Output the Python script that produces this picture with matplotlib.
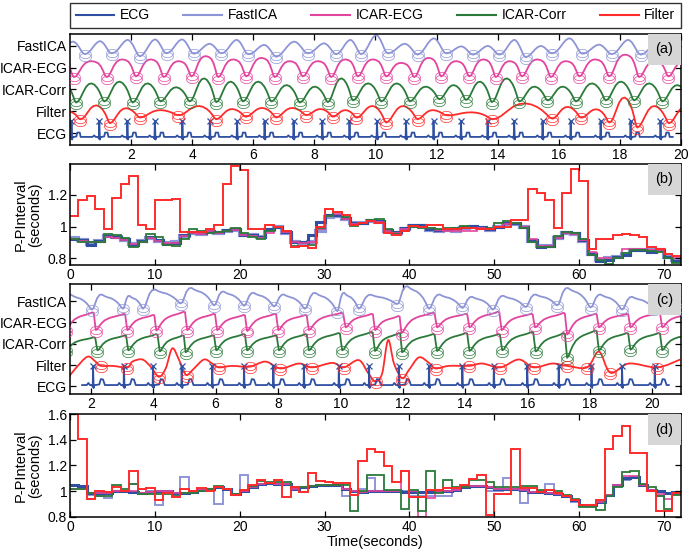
import numpy as np
import matplotlib
matplotlib.use("Agg")
import matplotlib.pyplot as plt
from matplotlib.path import Path
from matplotlib.patches import PathPatch, Rectangle
from matplotlib.lines import Line2D

plt.rcParams['font.family'] = ['Liberation Sans', 'DejaVu Sans']
plt.rcParams['font.size'] = 10

names = ["ECG", "FastICA", "ICAR-ECG", "ICAR-Corr", "Filter"]
colors = {"ECG": "#2f4fa2", "FastICA": "#8e95d6", "ICAR-ECG": "#e2449e",
          "ICAR-Corr": "#2b7a3a", "Filter": "#ff2b2b"}
trace_ticks = ["ECG", "Filter", "ICAR-Corr", "ICAR-ECG", "FastICA"]

# ---------------- panel (a): waveforms, 0-20 s ----------------
a_ecg_beats = [0.05, 0.96, 1.88, 2.78, 3.68, 4.58, 5.47, 6.37, 7.32, 8.26, 9.15,
               10.05, 11.0, 11.9, 12.8, 13.67, 14.54, 15.47, 16.39, 17.37, 18.35, 19.33]
a_ecg_base = -0.18
a_ecg_rel_t = [-0.3, -0.22, -0.17, -0.12, -0.04, -0.015, 0.0, 0.02, 0.04, 0.07, 0.16, 0.19, 0.27, 0.3, 0.4]
a_ecg_rel_v = [0, 0, 0.07, 0, 0, -0.08, 0.73, -0.12, 0.0, 0.0, 0.02, 0.2, 0.2, 0.0, 0]

a_fast_mins = [-0.42, 0.49, 1.36, 2.29, 3.16, 4.05, 4.96, 5.83, 6.75, 7.79, 8.71, 9.53, 10.4,
               11.38, 12.31, 13.18, 14.05, 14.92, 15.79, 16.77, 17.73, 18.68, 19.6]
a_fast_minv = [3.66, 3.62, 3.66, 3.52, 3.66, 3.64, 3.66, 3.62, 3.5, 3.66, 3.62, 3.62, 3.66,
               3.6, 3.66, 3.6, 3.6, 3.48, 3.66, 3.64, 3.62, 3.6, 3.62]
a_fast_peak = [4.2, 4.22, 4.28, 4.3, 4.3, 4.1, 4.28, 4.05, 4.2, 4.12, 4.28, 4.5, 4.1, 4.35,
               3.98, 4.0, 4.28, 4.0, 4.35, 4.06, 4.28, 4.1]

a_pink_mins = [-0.8, 0.13, 1.2, 2.16, 3.07, 3.98, 4.85, 5.77, 6.7, 7.62, 8.55, 9.42, 10.35,
               11.27, 12.15, 13.07, 13.94, 14.79, 15.74, 16.67, 17.65, 18.63, 19.59, 20.5]
a_pink_minv = [2.6, 2.57, 2.57, 2.6, 2.57, 2.6, 2.57, 2.6, 2.57, 2.6, 2.57, 2.6, 2.6,
               2.57, 2.6, 2.6, 2.57, 2.6, 2.57, 2.6, 2.6, 2.57, 2.6, 2.6]
a_pink_peak = [3.3, 3.3, 3.38, 3.38, 3.3, 3.53, 3.38, 3.45, 3.3, 3.3, 3.38, 3.38, 3.22,
               3.45, 3.3, 3.38, 3.3, 3.38, 3.3, 3.38, 3.6, 3.3, 3.25]

a_green_mins = [-0.7, 0.2, 1.12, 2.05, 2.96, 3.92, 4.79, 5.66, 6.59, 7.52, 8.44, 9.26, 10.19,
                11.13, 12.09, 12.96, 13.81, 14.71, 15.63, 16.56, 17.54, 18.46, 19.39, 20.3]
a_green_minv = [1.45, 1.4, 1.45, 1.4, 1.45, 1.45, 1.42, 1.45, 1.45, 1.4, 1.42, 1.5, 1.45,
                1.45, 1.55, 1.52, 1.42, 1.45, 1.5, 1.45, 1.5, 1.5, 1.45, 1.5]
a_green_peak = [2.3, 2.28, 2.36, 2.28, 2.1, 2.51, 2.36, 2.36, 2.2, 2.13, 2.51, 2.28, 2.28,
                2.13, 2.2, 2.36, 2.51, 2.13, 2.13, 2.28, 2.36, 2.28, 2.2]

a_red_mins = [-0.55, 0.33, 1.31, 2.29, 3.54, 4.79, 5.75, 6.75, 7.73, 8.6, 9.37, 10.35, 11.38,
              12.31, 13.83, 15.79, 16.72, 17.65, 18.57, 19.61, 20.6]
a_red_minv = [0.8, 0.63, 0.45, 0.71, 0.82, 0.63, 0.75, 0.71, 0.82, 0.75, 0.71, 0.48, 0.63,
              0.82, 0.63, 0.66, 0.71, 0.48, 0.25, 0.45, 0.6]
a_red_peak = [1.0, 1.27, 1.14, 1.05, 1.24, 1.1, 1.15, 1.15, 1.1, 1.05, 1.24, 1.24, 1.05,
              0.95, 1.36, 1.2, 1.09, 1.63, 1.24, 1.2]

# ---------------- panel (c): waveforms ----------------
c_ecg_beats = [2.07, 3.06, 3.99, 4.91, 5.89, 6.91, 7.85, 8.83, 9.95, 10.92, 11.88, 12.84,
               13.91, 14.92, 15.99, 17.0, 18.05, 19.03, 20.08]
c_ecg_base = 0.06
c_ecg_rel_t = [-0.35, -0.2, -0.15, -0.1, -0.03, -0.01, 0.0, 0.02, 0.04, 0.08, 0.2, 0.25, 0.32, 0.38, 0.45]
c_ecg_rel_v = [0, 0, 0.1, 0, 0, -0.08, 0.88, -0.14, 0.0, 0.0, 0.03, 0.28, 0.26, 0.0, 0]

c_fast_mins = [1.05, 2.03, 3.03, 3.67, 4.88, 5.95, 6.91, 7.87, 8.86, 9.9, 10.59, 11.82, 12.84,
               13.91, 14.89, 15.94, 16.95, 18.02, 19.03, 20.05, 21.0]
c_fast_minv = [3.6, 3.6, 3.64, 3.64, 3.89, 3.8, 3.78, 3.75, 3.64, 3.53, 3.64, 3.86, 3.64,
               3.68, 3.6, 3.72, 3.8, 3.7, 3.6, 3.65, 3.65]
c_fast_peak = [4.3, 4.31, 4.25, 4.55, 4.62, 4.45, 4.39, 4.31, 4.39, 4.39, 4.3, 4.7, 4.31,
               4.2, 4.25, 4.31, 4.62, 4.31, 4.2, 4.39]

c_pink_mins = [1.2, 2.16, 3.17, 4.1, 5.09, 6.05, 7.01, 8.01, 8.99, 10.17, 11.11, 11.96, 13.1,
               14.14, 15.17, 16.24, 17.27, 18.29, 19.3, 20.32, 21.3]
c_pink_minv = [2.62, 2.64, 2.64, 2.62, 2.64, 2.64, 2.6, 2.64, 2.64, 2.77, 2.64, 2.5, 2.77,
               2.77, 2.64, 2.77, 2.43, 2.77, 2.77, 2.77, 2.7]
c_pink_peak = [3.47, 3.4, 3.35, 3.5, 3.4, 3.35, 3.4, 3.35, 3.45, 3.4, 3.3, 3.45, 3.4, 3.5,
               3.4, 3.45, 3.4, 3.4, 3.45, 3.4]

c_green_mins = [1.2, 2.21, 3.2, 4.21, 5.04, 6.02, 7.01, 8.03, 8.99, 10.06, 11.11, 11.98, 13.1,
                14.14, 15.19, 16.26, 17.27, 18.29, 19.3, 20.32, 21.3]
c_green_minv = [1.69, 1.69, 1.69, 1.64, 1.6, 1.69, 1.69, 1.69, 1.69, 1.69, 1.66, 1.6, 1.66,
                1.66, 1.69, 1.64, 1.34, 1.69, 1.72, 1.7, 1.7]
c_green_peak = [2.3, 2.39, 2.45, 2.39, 2.39, 2.45, 2.39, 2.45, 2.5, 2.55, 2.5, 2.45, 2.5,
                2.45, 2.55, 2.5, 2.62, 2.5, 2.5, 2.45]

c_red_t = [1.3, 1.51, 1.89, 2.15, 2.32, 2.69, 3.17, 3.33, 3.65, 3.92, 4.18, 4.4, 4.61, 4.83,
           4.99, 5.09, 5.31, 5.63, 5.89, 6.11, 6.53, 7.09, 7.6, 8.08, 8.67, 9.1, 9.74, 10.11,
           10.59, 10.9, 11.13, 11.34, 11.53, 11.72, 11.98, 12.2, 12.52, 12.84, 13.05, 13.48,
           14.12, 14.55, 15.13, 15.72, 16.2, 16.79, 17.27, 17.91, 18.29, 18.66, 19.25, 20.16, 20.9]
c_red_v = [0.45, 0.84, 1.39, 1.16, 0.96, 0.96, 0.89, 1.16, 1.26, 0.92, 0.45, 0.84, 1.78, 1.23,
           0.69, 0.53, 0.84, 1.26, 1.07, 0.89, 0.96, 0.92, 1.16, 0.84, 1.07, 0.89, 1.1, 0.89,
           1.23, 0.6, 0.22, 0.61, 2.17, 1.07, 0.38, 0.77, 1.36, 1.1, 0.84, 0.96, 0.96, 1.07,
           0.89, 1.26, 0.89, 1.07, 0.96, 0.89, 1.63, 0.64, 1.07, 0.89, 1.26]
c_red_circ_t = [2.32, 3.17, 4.18, 5.09, 6.11, 7.09, 8.08, 9.1, 10.11, 11.13, 11.98, 13.05,
                14.12, 15.13, 16.2, 17.27, 17.91, 18.66, 20.16]
c_red_circ_v = [0.96, 0.89, 0.45, 0.53, 0.89, 0.92, 0.84, 0.89, 0.89, 0.22, 0.38, 0.84, 0.96,
                0.89, 0.89, 0.96, 0.89, 0.64, 0.89]

# beat shapes (phase within one min-to-min cycle, normalised level)
a_shape_fast = ([0, .07, .15, .25, .35, .45, .55, .62, .7, .78, .86, .93, 1],
                [0, .04, .15, .38, .65, .88, 1, .97, .82, .58, .3, .08, 0])
a_shape_pink = ([0, .07, .15, .25, .35, .45, .55, .65, .75, .83, .9, .95, 1],
                [0, .06, .3, .65, .88, .98, 1, .96, .86, .65, .36, .1, 0])
a_shape_round = ([0, .07, .15, .25, .35, .45, .55, .65, .75, .83, .9, .95, 1],
                 [0, .05, .22, .52, .8, .96, 1, .93, .76, .55, .3, .09, 0])
c_shape_fast = ([0, .05, .1, .17, .25, .32, .42, .52, .62, .72, .82, .9, .96, 1],
                [0, .08, .35, .75, .97, 1, .88, .8, .74, .62, .45, .25, .07, 0])
c_shape_saw = ([0, .05, .1, .18, .28, .4, .52, .65, .78, .88, .93, .965, 1],
               [0, .06, .22, .42, .6, .72, .8, .86, .93, 1, .97, .45, 0])

# ---------------- panel (b): P-P intervals ----------------
b_ecg = [0.925, 0.914, 0.886, 0.907, 0.942, 0.936, 0.92, 0.886, 0.907, 0.936, 0.914, 0.892,
         0.899, 0.946, 0.964, 0.957, 0.972, 0.964, 0.979, 0.985, 0.95, 0.946, 0.936, 0.985,
         1.0, 0.964, 0.9, 0.9, 0.95, 1.03, 1.075, 1.075, 1.054, 1.021, 1.021, 1.04, 1.035,
         0.979, 0.964, 0.99, 1.01, 1.01, 0.985, 0.979, 0.985, 0.99, 1.0, 1.005, 0.995, 0.985,
         1.0, 1.02, 1.02, 1.0, 0.914, 0.871, 0.878, 0.936, 0.964, 0.957, 0.914, 0.828, 0.785,
         0.79, 0.807, 0.822, 0.85, 0.85, 0.843, 0.85, 0.807, 0.785]
b_fast = [0.93, 0.918, 0.892, 0.91, 0.938, 0.932, 0.918, 0.892, 0.91, 0.93, 0.912, 0.895,
          0.9, 0.94, 0.96, 0.955, 0.968, 0.962, 0.975, 0.98, 0.948, 0.944, 0.935, 0.98,
          0.995, 0.96, 0.905, 0.89, 0.9, 0.97, 1.06, 1.07, 1.05, 1.02, 1.02, 1.035, 1.03,
          0.975, 0.96, 0.985, 1.005, 1.005, 0.98, 0.975, 0.98, 0.975, 0.99, 1.0, 0.99, 0.98,
          0.995, 1.015, 1.015, 0.995, 0.91, 0.875, 0.88, 0.93, 0.96, 0.955, 0.91, 0.83, 0.79,
          0.8, 0.81, 0.83, 0.855, 0.855, 0.85, 0.85, 0.81, 0.79]
b_pink = [0.922, 0.91, 0.9, 0.905, 0.935, 0.93, 0.915, 0.89, 0.905, 0.93, 0.91, 0.895,
          0.895, 0.94, 0.96, 0.955, 0.97, 0.96, 0.975, 0.98, 0.945, 0.94, 0.93, 0.96,
          0.995, 0.965, 0.905, 0.895, 0.9, 0.985, 1.07, 1.08, 1.05, 1.015, 1.02, 1.035, 1.03,
          0.975, 0.96, 0.985, 1.005, 1.0, 0.99, 0.98, 0.97, 0.97, 0.97, 0.97, 0.99, 0.985,
          0.995, 1.015, 1.02, 1.0, 0.92, 0.88, 0.875, 0.93, 0.96, 0.955, 0.915, 0.84, 0.8,
          0.8, 0.8, 0.86, 0.86, 0.86, 0.855, 0.85, 0.83, 0.8]
b_green = [0.92, 0.905, 0.9, 0.905, 0.955, 0.945, 0.93, 0.87, 0.9, 0.955, 0.935, 0.885,
           0.875, 0.925, 0.985, 0.97, 0.96, 0.965, 0.975, 0.99, 0.96, 0.935, 0.925, 0.975,
           0.995, 0.975, 0.88, 0.88, 0.885, 0.99, 1.07, 1.09, 1.06, 1.005, 1.02, 1.04, 1.045,
           0.985, 0.955, 0.975, 1.0, 0.99, 0.99, 0.985, 0.99, 0.99, 1.005, 0.99, 0.985, 0.99,
           1.02, 1.035, 1.025, 0.99, 0.9, 0.87, 0.87, 0.94, 0.965, 0.96, 0.92, 0.82, 0.79,
           0.765, 0.8, 0.835, 0.855, 0.85, 0.845, 0.84, 0.8, 0.77]
b_red = [1.07, 1.166, 1.19, 1.11, 0.985, 1.18, 1.27, 1.32, 1.01, 0.985, 1.168, 1.168, 1.175,
         0.968, 0.968, 0.968, 0.985, 1.01, 1.27, 1.38, 1.36, 0.985, 0.985, 1.01, 0.995, 0.975,
         0.87, 0.875, 0.865, 0.995, 1.11, 1.09, 1.075, 1.01, 1.02, 1.035, 1.02, 0.96, 0.945,
         0.97, 1.005, 1.0, 1.01, 1.01, 0.985, 0.985, 0.99, 0.99, 0.985, 0.985, 1.0, 1.0, 1.04,
         1.04, 1.235, 1.215, 1.17, 0.99, 1.21, 1.365, 1.29, 0.86, 0.925, 0.925, 0.945, 0.955,
         0.95, 0.935, 0.87, 0.86, 0.83, 0.815]

# ---------------- panel (d): P-P intervals ----------------
d_ecg = [1.05, 1.04, 0.985, 0.985, 0.99, 1.0, 1.005, 0.995, 0.99, 0.995, 1.0, 1.0, 0.985,
         0.99, 0.995, 1.01, 1.015, 1.03, 1.02, 0.98, 1.005, 1.03, 1.06, 1.065, 1.06, 1.055,
         1.02, 1.03, 1.04, 1.05, 1.05, 1.045, 1.02, 1.0, 0.995, 1.0, 1.0, 1.0, 1.0, 0.995,
         0.995, 0.995, 0.995, 1.0, 1.005, 1.01, 1.03, 1.04, 1.04, 1.03, 1.02, 1.015, 1.015,
         1.01, 0.995, 0.995, 0.99, 0.98, 0.96, 0.93, 0.89, 0.89, 0.915, 0.97, 1.05, 1.1, 1.11,
         1.05, 1.01, 1.0, 0.99, 0.995]
d_fast = [1.05, 1.04, 0.97, 0.96, 0.945, 1.0, 1.0, 1.06, 0.99, 1.0, 0.89, 0.99, 0.99, 1.11,
          1.0, 1.01, 1.02, 0.9, 1.02, 0.98, 1.13, 1.03, 1.06, 1.06, 1.06, 1.05, 1.03, 1.03,
          1.04, 1.05, 1.05, 1.04, 0.96, 1.0, 1.02, 1.1, 1.0, 1.0, 1.0, 1.0, 0.96, 0.96, 0.96,
          0.96, 0.96, 1.0, 1.04, 1.04, 1.04, 1.0, 1.0, 1.1, 1.02, 0.91, 0.99, 1.0, 1.06, 0.98,
          0.96, 0.92, 0.89, 0.89, 0.92, 0.97, 1.05, 1.09, 1.1, 1.05, 1.0, 0.96, 0.99, 0.98]
d_pink = [1.02, 1.02, 0.985, 0.985, 0.99, 1.0, 1.005, 1.0, 0.99, 0.995, 1.0, 1.0, 0.985,
          0.99, 0.995, 1.01, 1.015, 1.03, 1.02, 0.98, 1.005, 1.03, 1.06, 1.065, 1.06, 1.055,
          1.02, 1.03, 1.04, 1.05, 1.05, 1.045, 1.02, 1.0, 0.995, 1.0, 1.0, 1.0, 1.0, 1.16, 1.0,
          0.8, 0.945, 1.0, 1.005, 1.01, 1.03, 1.04, 1.04, 1.03, 1.02, 1.015, 1.015, 1.01,
          0.995, 0.995, 0.99, 0.98, 0.96, 0.93, 0.89, 0.89, 0.915, 0.97, 1.05, 1.12, 1.12, 1.05,
          1.01, 0.98, 0.94, 0.99]
d_green = [1.02, 1.02, 0.985, 0.96, 0.96, 1.05, 1.02, 1.06, 0.98, 0.98, 0.98, 0.98, 0.96,
           0.99, 0.985, 1.0, 1.02, 1.04, 1.02, 0.98, 1.01, 1.04, 1.08, 1.07, 1.07, 1.07, 1.03,
           1.03, 1.04, 1.05, 1.05, 1.05, 1.05, 0.85, 1.0, 1.13, 1.13, 1.01, 1.01, 0.865, 1.01,
           0.85, 1.155, 0.99, 1.09, 1.03, 1.03, 1.09, 1.09, 1.07, 1.03, 1.03, 1.03, 1.04, 1.04,
           1.01, 1.01, 1.0, 0.97, 0.94, 0.88, 0.88, 0.853, 0.965, 1.03, 1.15, 1.155, 1.06, 1.03,
           0.96, 0.865, 0.97]
d_red = [1.75, 1.409, 0.937, 1.0, 0.997, 1.031, 1.005, 1.155, 1.016, 1.024, 0.932, 0.99,
         0.953, 1.016, 1.005, 1.024, 1.005, 1.031, 1.016, 0.971, 1.01, 1.05, 1.09, 1.063, 1.09,
         0.953, 1.031, 0.997, 1.142, 1.076, 1.068, 1.063, 1.063, 0.971, 1.233, 1.325, 1.304,
         1.194, 1.068, 1.155, 0.958, 0.958, 1.01, 1.01, 1.024, 1.024, 1.05, 1.095, 1.129, 0.814,
         0.979, 0.979, 1.325, 1.024, 1.024, 0.997, 1.01, 0.99, 0.963, 0.932, 0.892, 0.892, 0.932,
         1.325, 1.43, 1.504, 1.299, 1.299, 1.0, 0.85, 0.85, 0.99]

theta = np.linspace(0, 2 * np.pi, 40)
ellipse = Path(np.column_stack([np.cos(theta), 0.7 * np.sin(theta)]), closed=True)


def wave(mins, minv, peaks, shape):
    p = np.array(shape[0])
    s = np.array(shape[1])
    xs, ys = [], []
    for i in range(len(mins) - 1):
        lo = minv[i] + (minv[i + 1] - minv[i]) * p
        xs.append(mins[i] + (mins[i + 1] - mins[i]) * p[:-1])
        ys.append((lo + (peaks[i] - lo) * s)[:-1])
    xs.append([mins[-1]])
    ys.append([minv[-1]])
    return np.concatenate(xs), np.concatenate(ys)


def circles(ax, t, v, color):
    t = np.array(t)
    v = np.array(v)
    for dv in (0.02, -0.12):
        ax.plot(t, v + dv, ls='none', marker=ellipse, ms=8.5, mfc='none', mec=color,
                mew=0.6, alpha=0.85, zorder=3)


def ecg_line(beats, base, rel_t, rel_v):
    xs = np.concatenate([b + np.array(rel_t) for b in beats])
    ys = np.concatenate([base + np.array(rel_v) for b in beats])
    return xs, ys


def smooth(ax, t, v, **kw):
    P = np.column_stack([t, v])
    E = np.vstack([P[0], P, P[-1]])
    verts = [P[0]]
    codes = [Path.MOVETO]
    for i in range(len(P) - 1):
        p0, p1, p2, p3 = E[i], E[i + 1], E[i + 2], E[i + 3]
        verts += [p1 + (p2 - p0) / 6, p2 - (p3 - p1) / 6, p2]
        codes += [Path.CURVE4] * 3
    ax.add_patch(PathPatch(Path(verts, codes), fill=False, **kw))


def style(ax, tag):
    ax.tick_params(direction='in', top=True, right=True, length=4, width=0.9, pad=2, labelsize=10)
    for sp in ax.spines.values():
        sp.set_linewidth(1.1)
    h = 31.0 / (ax.get_position().height * 554)
    w = 33.0 / (ax.get_position().width * 690)
    ax.add_patch(Rectangle((1 - w, 1 - h), w, h, transform=ax.transAxes,
                           facecolor='#d6d6d6', edgecolor='none', zorder=6))
    ax.text(1 - w / 2, 1 - h / 2, tag, transform=ax.transAxes, ha='center', va='center',
            fontsize=10.5, zorder=7)


fig = plt.figure(figsize=(6.9, 5.54), dpi=100)
ax_a = fig.add_axes([0.1014, 0.7383, 0.8855, 0.2004])
ax_b = fig.add_axes([0.1014, 0.5217, 0.8855, 0.1823])
ax_c = fig.add_axes([0.1014, 0.2888, 0.8855, 0.1977])
ax_d = fig.add_axes([0.1014, 0.0668, 0.8855, 0.1859])

# (a)
x, y = ecg_line(a_ecg_beats, a_ecg_base, a_ecg_rel_t, a_ecg_rel_v)
ax_a.plot(x, y, color=colors["ECG"], lw=1.3)
ax_a.plot(a_ecg_beats, np.array(a_ecg_beats) * 0 + a_ecg_base + 0.73, ls='none', marker='x',
          ms=5, mew=0.9, color=colors["ECG"])
for mins, minv, peaks, shape, key in [
        (a_fast_mins, a_fast_minv, a_fast_peak, a_shape_fast, "FastICA"),
        (a_pink_mins, a_pink_minv, a_pink_peak, a_shape_pink, "ICAR-ECG"),
        (a_green_mins, a_green_minv, a_green_peak, a_shape_round, "ICAR-Corr"),
        (a_red_mins, a_red_minv, a_red_peak, a_shape_round, "Filter")]:
    x, y = wave(mins, minv, peaks, shape)
    ax_a.plot(x, y, color=colors[key], lw=1.3)
    circles(ax_a, mins, minv, colors[key])
ax_a.set_xlim(0, 20)
ax_a.set_ylim(-0.55, 4.55)
ax_a.set_xticks(range(2, 21, 2))
ax_a.set_yticks(range(5))
ax_a.set_yticklabels(trace_ticks)
style(ax_a, "(a)")

# (c)
x, y = ecg_line(c_ecg_beats, c_ecg_base, c_ecg_rel_t, c_ecg_rel_v)
ax_c.plot(x, y, color=colors["ECG"], lw=1.3)
ax_c.plot(c_ecg_beats, np.array(c_ecg_beats) * 0 + c_ecg_base + 0.88, ls='none', marker='x',
          ms=5, mew=0.9, color=colors["ECG"])
for mins, minv, peaks, shape, key in [
        (c_fast_mins, c_fast_minv, c_fast_peak, c_shape_fast, "FastICA"),
        (c_pink_mins, c_pink_minv, c_pink_peak, c_shape_saw, "ICAR-ECG"),
        (c_green_mins, c_green_minv, c_green_peak, c_shape_saw, "ICAR-Corr")]:
    x, y = wave(mins, minv, peaks, shape)
    ax_c.plot(x, y, color=colors[key], lw=1.3)
    circles(ax_c, mins, minv, colors[key])
smooth(ax_c, c_red_t, c_red_v, edgecolor=colors["Filter"], lw=1.3)
circles(ax_c, c_red_circ_t, c_red_circ_v, colors["Filter"])
ax_c.set_xlim(1.33, 20.92)
ax_c.set_ylim(-0.36, 4.78)
ax_c.set_xticks(range(2, 21, 2))
ax_c.set_yticks(range(5))
ax_c.set_yticklabels(trace_ticks)
style(ax_c, "(c)")

# (b) and (d)
edges = np.arange(73)
for ax, series, widths in [(ax_b, [b_fast, b_ecg, b_pink, b_green, b_red], [3.0, 2.2, 1.2, 1.3, 1.4]),
                           (ax_d, [d_fast, d_ecg, d_pink, d_green, d_red], [1.4, 2.2, 1.2, 1.3, 1.4])]:
    for vals, key, lw in zip(series, ["FastICA", "ECG", "ICAR-ECG", "ICAR-Corr", "Filter"], widths):
        ax.stairs(vals, edges, baseline=None, color=colors[key], lw=lw)
    ax.set_xlim(0, 72)
    ax.set_xticks(range(0, 71, 10))
    ax.set_ylabel("P-PInterval\n(seconds)", fontsize=10.5, linespacing=1.05, labelpad=4)

ax_b.set_ylim(0.758, 1.395)
ax_b.set_yticks([0.8, 1.0, 1.2])
ax_b.set_yticklabels(["0.8", "1", "1.2"])
style(ax_b, "(b)")

ax_d.set_ylim(0.8, 1.6)
ax_d.set_yticks([0.8, 1.0, 1.2, 1.4, 1.6])
ax_d.set_yticklabels(["0.8", "1", "1.2", "1.4", "1.6"])
ax_d.set_xlabel("Time(seconds)", fontsize=10.5, labelpad=1)
style(ax_d, "(d)")

handles = [Line2D([], [], color=colors[n], lw=1.5) for n in names]
leg = fig.legend(handles, names, loc='center', bbox_to_anchor=(0.1014, 0.9495, 0.8855, 0.0451),
                 mode='expand', ncol=5, fancybox=False, edgecolor='black', handlelength=2.8,
                 handletextpad=0.4, borderaxespad=0, fontsize=10)
leg.get_frame().set_linewidth(1.0)

fig.savefig("out.png", dpi=100)
